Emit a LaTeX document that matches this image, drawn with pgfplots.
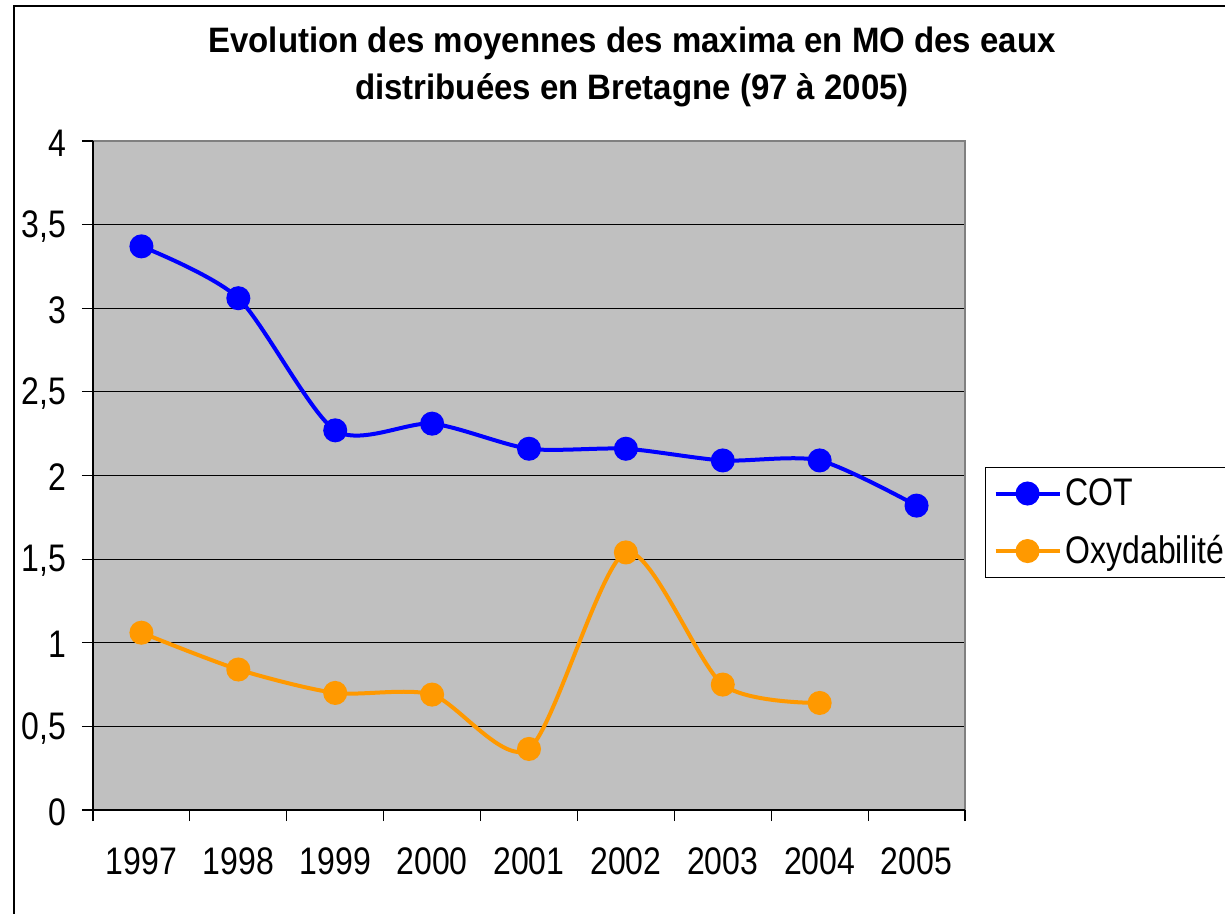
\documentclass[border=0pt]{standalone}
\usepackage{fontspec}
\setmainfont{Liberation Sans}
\usepackage{graphicx}
\usepackage{pgfplots}
\pgfplotsset{compat=1.18}
\definecolor{plotgray}{HTML}{C0C0C0}
\definecolor{bordergray}{HTML}{808080}
\definecolor{cotblue}{HTML}{0000FF}
\definecolor{oxyorange}{HTML}{FF9900}
\newcommand{\vs}[1]{\scalebox{1}[1.2]{#1}}
\begin{document}
\begin{tikzpicture}
\path[use as bounding box, clip] (0,0) rectangle (612.5pt,-457pt);
\fill[white] (0,0) rectangle (612.5pt,-457pt);
\draw[black, line width=0.8pt] (7pt,-3pt) rectangle (700pt,-600pt);
\node[anchor=base, inner sep=0pt, font=\bfseries\fontsize{16.5}{20}\selectfont] at (316pt,-26.5pt) {\scalebox{1}[1.07]{Evolution des moyennes des maxima en MO des eaux}};
\node[anchor=base, inner sep=0pt, font=\bfseries\fontsize{16.5}{20}\selectfont] at (316pt,-50pt) {\scalebox{1}[1.07]{distribuées en Bretagne (97 à 2005)}};
\begin{axis}[
  at={(46.5pt,-405pt)}, anchor=south west,
  scale only axis, width=436pt, height=334.5pt,
  xmin=0.5, xmax=9.5, ymin=0, ymax=4,
  xtick={0.5,1.5,...,9.5},
  x tick label as interval,
  xticklabels={\vs{1997},\vs{1998},\vs{1999},\vs{2000},\vs{2001},\vs{2002},\vs{2003},\vs{2004},\vs{2005}},
  ytick={0,0.5,...,4},
  yticklabel={\vs{\pgfmathprintnumber{\tick}}},
  /pgf/number format/use comma,
  /pgf/number format/assume math mode=true,
  yticklabel style={font=\fontsize{16}{19}\selectfont, xshift=-4.5pt, yshift=-1pt},
  xticklabel style={font=\fontsize{16}{19}\selectfont, yshift=-10pt},
  tick pos=left,
  tick align=outside,
  major tick length=5.5pt,
  tick style={black, line width=0.6pt},
  ymajorgrids,
  grid style={black, line width=0.6pt},
  axis line style={draw=none},
  axis background/.style={fill=plotgray},
  legend style={at={(1.0229,0.5127)}, anchor=north west, draw=black, line width=0.6pt, fill=white,
    font=\fontsize{16}{19}\selectfont, row sep=9.5pt, inner ysep=3.5pt, inner xsep=4pt},
  legend cell align=left,
  legend image code/.code={\draw[mark repeat=2,mark phase=2] plot coordinates {(0pt,0pt)(16pt,0pt)(32pt,0pt)};},
  clip=false,
]
\addplot[cotblue, line width=2pt, smooth, tension=0.45, mark=*, mark options={solid, fill=cotblue, draw=cotblue}, mark size=5pt]
 coordinates {(1,3.37) (2,3.06) (3,2.27) (4,2.31) (5,2.16) (6,2.16) (7,2.09) (8,2.09) (9,1.82)};
\addlegendentry{\vs{COT}}
\addplot[oxyorange, line width=2pt, smooth, tension=0.45, mark=*, mark options={solid, fill=oxyorange, draw=oxyorange}, mark size=5pt]
 coordinates {(1,1.06) (2,0.84) (3,0.70) (4,0.69) (5,0.365) (6,1.54) (7,0.75) (8,0.64)};
\addlegendentry{\vs{Oxydabilité}}
\draw[bordergray, line width=0.8pt] (rel axis cs:0,1) -- (rel axis cs:1,1) -- (rel axis cs:1,0);
\draw[black, line width=0.8pt] (rel axis cs:0,1) -- (rel axis cs:0,0) -- (rel axis cs:1,0);
\end{axis}
\end{tikzpicture}
\end{document}
